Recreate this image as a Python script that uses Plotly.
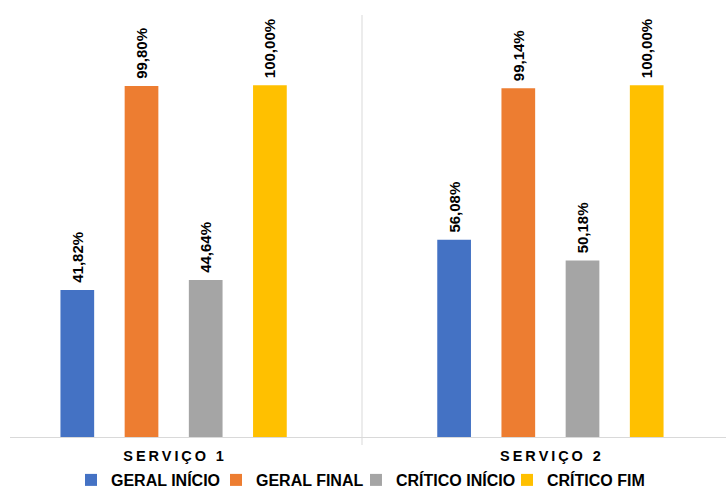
import plotly.graph_objects as go

# Categories and series values (percent)
categories = ["SERVIÇO 1", "SERVIÇO 2"]
series_names = ["GERAL INÍCIO", "GERAL FINAL", "CRÍTICO INÍCIO", "CRÍTICO FIM"]
geral_inicio = [41.82, 56.08]
geral_final = [99.80, 99.14]
critico_inicio = [44.64, 50.18]
critico_fim = [100.00, 100.00]

series_values = [geral_inicio, geral_final, critico_inicio, critico_fim]
colors = ["#4472C4", "#ED7D31", "#A5A5A5", "#FFC000"]

FONT = "Liberation Sans, Arial, sans-serif"

# letter-spaced category labels
spaced = ["\u2009".join(c) for c in categories]
xpos = list(range(len(categories)))

# one legend box per series so each entry sits at its own place
legend_ids = ["legend", "legend2", "legend3", "legend4"]
legend_x = [0.0852, 0.2877, 0.4832, 0.6941]

fig = go.Figure()
for name, vals, col, lid in zip(series_names, series_values, colors, legend_ids):
    fig.add_trace(go.Bar(
        x=xpos, y=vals, name=name,
        marker=dict(color=col, line=dict(width=0)),
        texttemplate="\u00a0%{y:.2f}%",
        textposition="outside",
        textangle=-90,
        textfont=dict(family=FONT, size=15, color="#000000", weight="bold"),
        cliponaxis=False,
        constraintext="none",
        legend=lid,
    ))

legend_style = dict(
    orientation="h", xanchor="left",
    y=-0.1019, yanchor="middle",
    font=dict(family=FONT, size=16, color="#000000", weight="bold"),
    bgcolor="rgba(0,0,0,0)",
)

fig.update_layout(
    width=726, height=489,
    margin=dict(l=10, r=0, t=15, b=52, autoexpand=False),
    paper_bgcolor="white", plot_bgcolor="white",
    separators=",.",
    barmode="group",
    bargap=0.3185,
    bargroupgap=0.475,
    font=dict(family=FONT, color="#000000"),
    xaxis=dict(
        tickmode="array", tickvals=xpos, ticktext=spaced,
        range=[-0.4342, 1.466],
        showline=True, linecolor="#d9d9d9", linewidth=1,
        showgrid=False, zeroline=False, ticks="",
        tickfont=dict(family=FONT, size=14.5, color="#000000", weight="bold"),
        ticklabelstandoff=6,
    ),
    yaxis=dict(range=[0, 120], visible=False, showgrid=False, zeroline=False),
    showlegend=True,
)
for lid, lx in zip(legend_ids, legend_x):
    fig.update_layout({lid: dict(legend_style, x=lx)})

# vertical separator between the two categories
fig.add_shape(type="line", xref="x", yref="paper",
              x0=0.5, x1=0.5, y0=-0.019, y1=1,
              line=dict(color="#d9d9d9", width=1))

fig.write_html("out.html")
